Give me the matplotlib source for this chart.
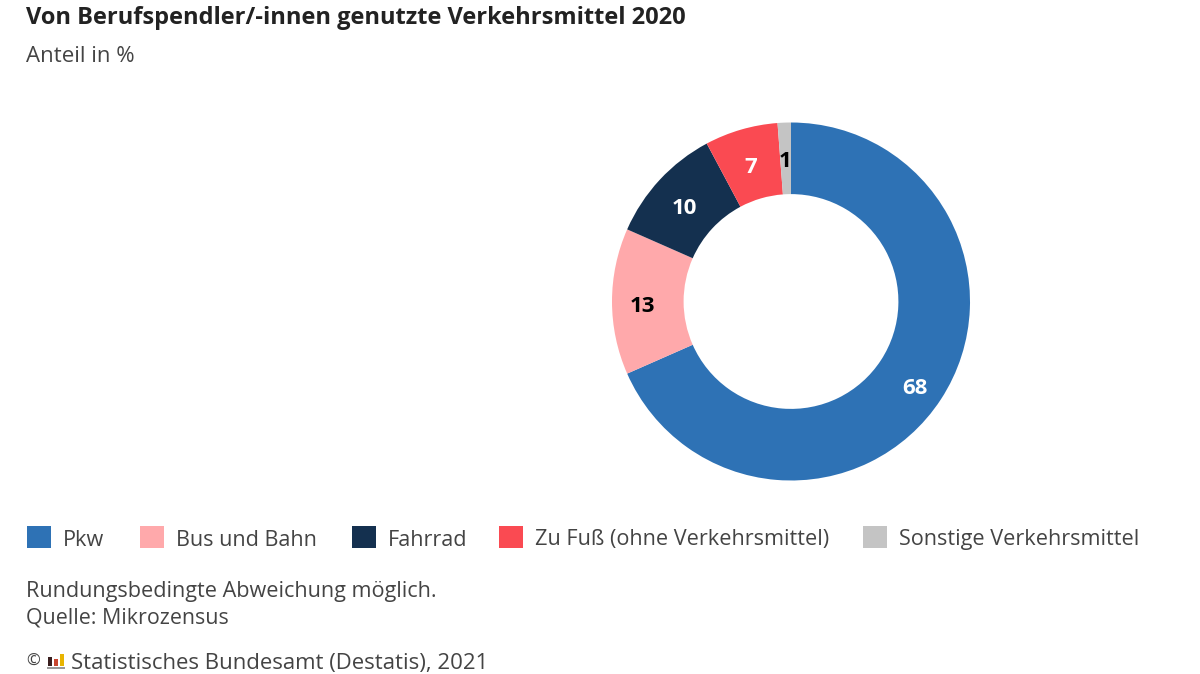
import numpy as np
import matplotlib
matplotlib.use('Agg')
import matplotlib.pyplot as plt
from matplotlib.patches import Rectangle

plt.rcParams['font.family'] = ['Open Sans', 'DejaVu Sans']

labels = ['Pkw', 'Bus und Bahn', 'Fahrrad', 'Zu Fuß (ohne Verkehrsmittel)', 'Sonstige Verkehrsmittel']
# slice sizes as measured in the picture, printed labels are the rounded ones
values = [68.4, 13.2, 10.6, 6.6, 1.2]
value_labels = ['68', '13', '10', '7', '1']
colors = ['#2e72b5', '#ffa9ab', '#14304f', '#fa4a52', '#c4c4c4']
label_colors = ['white', 'black', 'white', 'white', 'black']
label_radius = [0.83, 0.83, 0.81, 0.81, 0.81]
legend_x = [27, 140, 352, 499, 863]

W, H = 1200, 674
fig = plt.figure(figsize=(W / 100, H / 100), dpi=100, facecolor='white')

# pie axes, size in pixels
cx, cy, r = 791, 301.5, 179
ax = fig.add_axes([(cx - r) / W, 1 - (cy + r) / H, 2 * r / W, 2 * r / H])
ax.pie(values, colors=colors, startangle=90, counterclock=False,
       radius=1, normalize=True, wedgeprops=dict(width=0.4))
ax.set_xlim(-1, 1)
ax.set_ylim(-1, 1)

# value labels in the middle of the ring, sitting a bit low
theta = 90.0
total = sum(values)
for v, s, c, rad in zip(values, value_labels, label_colors, label_radius):
    sweep = 360.0 * v / total
    mid = np.deg2rad(theta - sweep / 2)
    ax.text(rad * np.cos(mid), rad * np.sin(mid) - 0.03, s, color=c, ha='center', va='center',
            fontsize=16, fontweight='bold')
    theta -= sweep


def px_text(x, y, s, **kw):
    fig.text(x / W, 1 - y / H, s, va='center', ha='left', **kw)


grey = '#444444'
body = 15.6
px_text(26, 18, 'Von Berufspendler/-innen genutzte Verkehrsmittel 2020', fontsize=17.05, fontweight='bold', color='#222222')
px_text(26, 57, 'Anteil in %', fontsize=16, color=grey)

for x, lab, col in zip(legend_x, labels, colors):
    fig.add_artist(Rectangle((x / W, 1 - 548 / H), 24 / W, 22 / H, transform=fig.transFigure, facecolor=col, edgecolor='none'))
    px_text(x + 36, 540, lab, fontsize=body, color=grey)

px_text(26, 591, 'Rundungsbedingte Abweichung möglich.', fontsize=body, color=grey)
px_text(26, 618, 'Quelle: Mikrozensus', fontsize=15.4, color=grey)
px_text(26, 662, '©', fontsize=12, color=grey)
px_text(71, 663, 'Statistisches Bundesamt (Destatis), 2021', fontsize=15.9, color=grey)

# small destatis logo
logo_x = [48, 54, 60]
logo_h = [9, 7, 12]
logo_c = ['#3a1f1f', '#c8452f', '#e8b400']
for x, h, c in zip(logo_x, logo_h, logo_c):
    fig.add_artist(Rectangle((x / W, 1 - 666 / H), 4 / W, h / H, transform=fig.transFigure, facecolor=c, edgecolor='none'))
fig.add_artist(Rectangle((47 / W, 1 - 669 / H), 18 / W, 2 / H, transform=fig.transFigure, facecolor='#999999', edgecolor='none'))

fig.savefig('out.png', dpi=100)
